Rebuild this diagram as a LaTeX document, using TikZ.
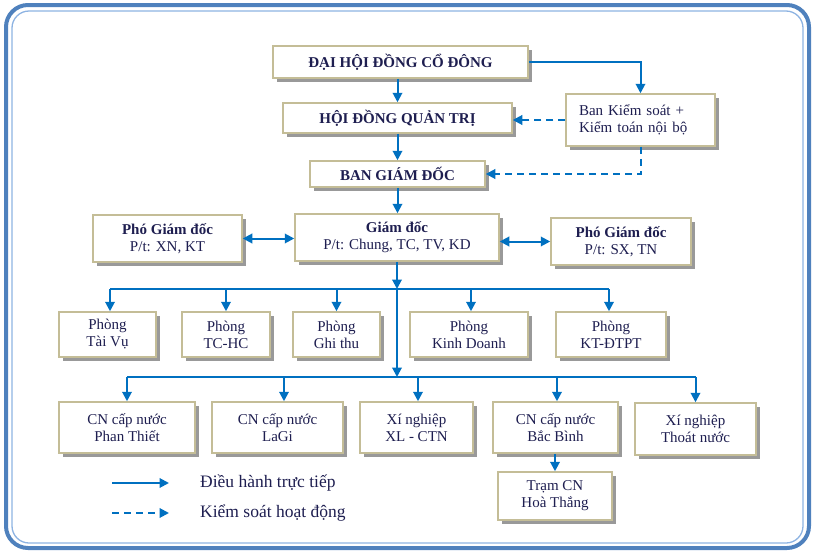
\documentclass[tikz,border=0pt]{standalone}
\usepackage{fontspec}
\setmainfont{Liberation Serif}
\usetikzlibrary{arrows.meta,shadows,calc}
\definecolor{arr}{RGB}{0,112,192}
\definecolor{frm}{RGB}{79,129,189}
\definecolor{frmin}{RGB}{141,179,226}
\definecolor{bord}{RGB}{196,189,151}
\definecolor{txt}{RGB}{30,30,80}
\begin{document}
\begin{tikzpicture}[x=1pt,y=-1pt,
  box/.style={draw=bord,line width=1.5pt,fill=white,inner sep=0pt,align=center,text=txt,
    font=\fontsize{15}{17}\selectfont,
    drop shadow={shadow xshift=4pt,shadow yshift=-4pt,fill=black!50,opacity=0.8}},
  capbox/.style={box,font=\fontsize{15}{17}\selectfont\bfseries},
  link/.style={draw=arr,line width=2pt,-{Triangle[length=9.5pt,width=9.5pt]}},
  dlink/.style={link,dash pattern=on 7pt off 5pt},
  bi/.style={draw=arr,line width=2pt,{Triangle[length=9.5pt,width=9.5pt]}-{Triangle[length=9.5pt,width=9.5pt]}},
  bar/.style={draw=arr,line width=2pt},
  legtext/.style={text=txt,font=\fontsize{17.5}{19}\selectfont,inner sep=0pt,anchor=west}]
\useasboundingbox (0,0) rectangle (814,552);
% frame
\draw[frm,line width=4pt,rounded corners=22pt] (6,5) rectangle (809,548);
\draw[frmin,line width=1.3pt,rounded corners=17pt] (12,11) rectangle (803,543);
% top nodes
\node[capbox,minimum width=255pt,minimum height=32pt] (dh) at (400.5,62) {ĐẠI HỘI ĐỒNG CỔ ĐÔNG};
\node[capbox,minimum width=229pt,minimum height=30pt] (hd) at (397.5,118) {HỘI ĐỒNG QUẢN TRỊ};
\node[capbox,minimum width=175pt,minimum height=26pt] (bgd) at (397.5,174) {BAN GIÁM ĐỐC};
\node[box,minimum width=149pt,minimum height=52pt,text width=123pt,align=left] (bks) at (640.5,120) {Ban Kiểm soát +\\Kiểm toán nội bộ};
% director row
\node[box,minimum width=149pt,minimum height=47pt] (pgd1) at (167.5,238.5) {\textbf{Phó Giám đốc}\\P/t: XN, KT};
\node[box,minimum width=204pt,minimum height=47pt] (gd) at (397,237.5) {\textbf{Giám đốc}\\P/t: Chung, TC, TV, KD};
\node[box,minimum width=140pt,minimum height=47pt] (pgd2) at (621,241.5) {\textbf{Phó Giám đốc}\\P/t: SX, TN};
% departments
\node[box,minimum width=97pt,minimum height=45pt] (p1) at (107.5,334.5) {Phòng\\Tài Vụ};
\node[box,minimum width=88pt,minimum height=45pt] (p2) at (226,334.5) {Phòng\\TC-HC};
\node[box,minimum width=87pt,minimum height=45pt] (p3) at (336.5,334.5) {Phòng\\Ghi thu};
\node[box,minimum width=118pt,minimum height=45pt] (p4) at (469,334.5) {Phòng\\Kinh Doanh};
\node[box,minimum width=110pt,minimum height=45pt] (p5) at (611,334.5) {Phòng\\KT-ĐTPT};
% branches
\node[box,minimum width=136pt,minimum height=51pt] (c1) at (127,427.5) {CN cấp nước\\Phan Thiết};
\node[box,minimum width=131pt,minimum height=51pt] (c2) at (277.5,427.5) {CN cấp nước\\LaGi};
\node[box,minimum width=113pt,minimum height=51pt] (c3) at (416.5,427.5) {Xí nghiệp\\XL - CTN};
\node[box,minimum width=125pt,minimum height=51pt] (c4) at (555.5,427.5) {CN cấp nước\\Bắc Bình};
\node[box,minimum width=121pt,minimum height=52pt] (c5) at (695.5,429) {Xí nghiệp\\Thoát nước};
\node[box,minimum width=114pt,minimum height=48pt] (tr) at (555,496) {Trạm CN\\Hoà Thắng};
% connectors top
\draw[link] (dh.south -| hd.north) -- (hd.north);
\draw[link] (hd) -- (bgd);
\draw[link] (bgd.south) -- (bgd.south |- gd.north);
\draw[link] (dh.east) -| (bks.north);
\draw[dlink] (bks.west) -- (bks.west -| hd.east);
\draw[dlink] (bks.south) |- (bgd.east);
\draw[bi] (pgd1.east) -- (pgd1.east -| gd.west);
\draw[bi] (pgd2.west -| gd.east) -- (pgd2.west);
% bars
\coordinate (b1) at (0,289);
\coordinate (b2) at (0,377);
\draw[link] (gd.south) -- (gd.south |- b1);
\draw[bar] ([xshift=2.5pt]p1.north |- b1) -- ([xshift=-2pt]p5.north |- b1);
\draw[link] ([xshift=2.5pt]p1.north |- b1) -- ([xshift=2.5pt]p1.north);
\draw[link] (p2.north |- b1) -- (p2.north);
\draw[link] (p3.north |- b1) -- (p3.north);
\draw[link] ([xshift=2pt]p4.north |- b1) -- ([xshift=2pt]p4.north);
\draw[link] ([xshift=-2pt]p5.north |- b1) -- ([xshift=-2pt]p5.north);
\draw[link] (gd.south |- b1) -- (gd.south |- b2);
\draw[bar] (c1.north |- b2) -- (c5.north |- b2);
\draw[link] (c1.north |- b2) -- (c1.north);
\draw[link] ([xshift=6.5pt]c2.north |- b2) -- ([xshift=6.5pt]c2.north);
\draw[link] ([xshift=1.5pt]c3.north |- b2) -- ([xshift=1.5pt]c3.north);
\draw[link] ([xshift=1.5pt]c4.north |- b2) -- ([xshift=1.5pt]c4.north);
\draw[link] (c5.north |- b2) -- (c5.north);
\draw[link] (c4.south -| tr.north) -- (tr.north);
% legend
\coordinate (l1a) at (112,483);
\coordinate (l1b) at (169,483);
\coordinate (l2a) at (112,513);
\coordinate (l2b) at (169,513);
\draw[link] (l1a) -- (l1b);
\draw[dlink] (l2a) -- (l2b);
\node[legtext] (lt1) at (200,483) {Điều hành trực tiếp};
\node[legtext] (lt2) at (200,513) {Kiểm soát hoạt động};
\end{tikzpicture}
\end{document}
